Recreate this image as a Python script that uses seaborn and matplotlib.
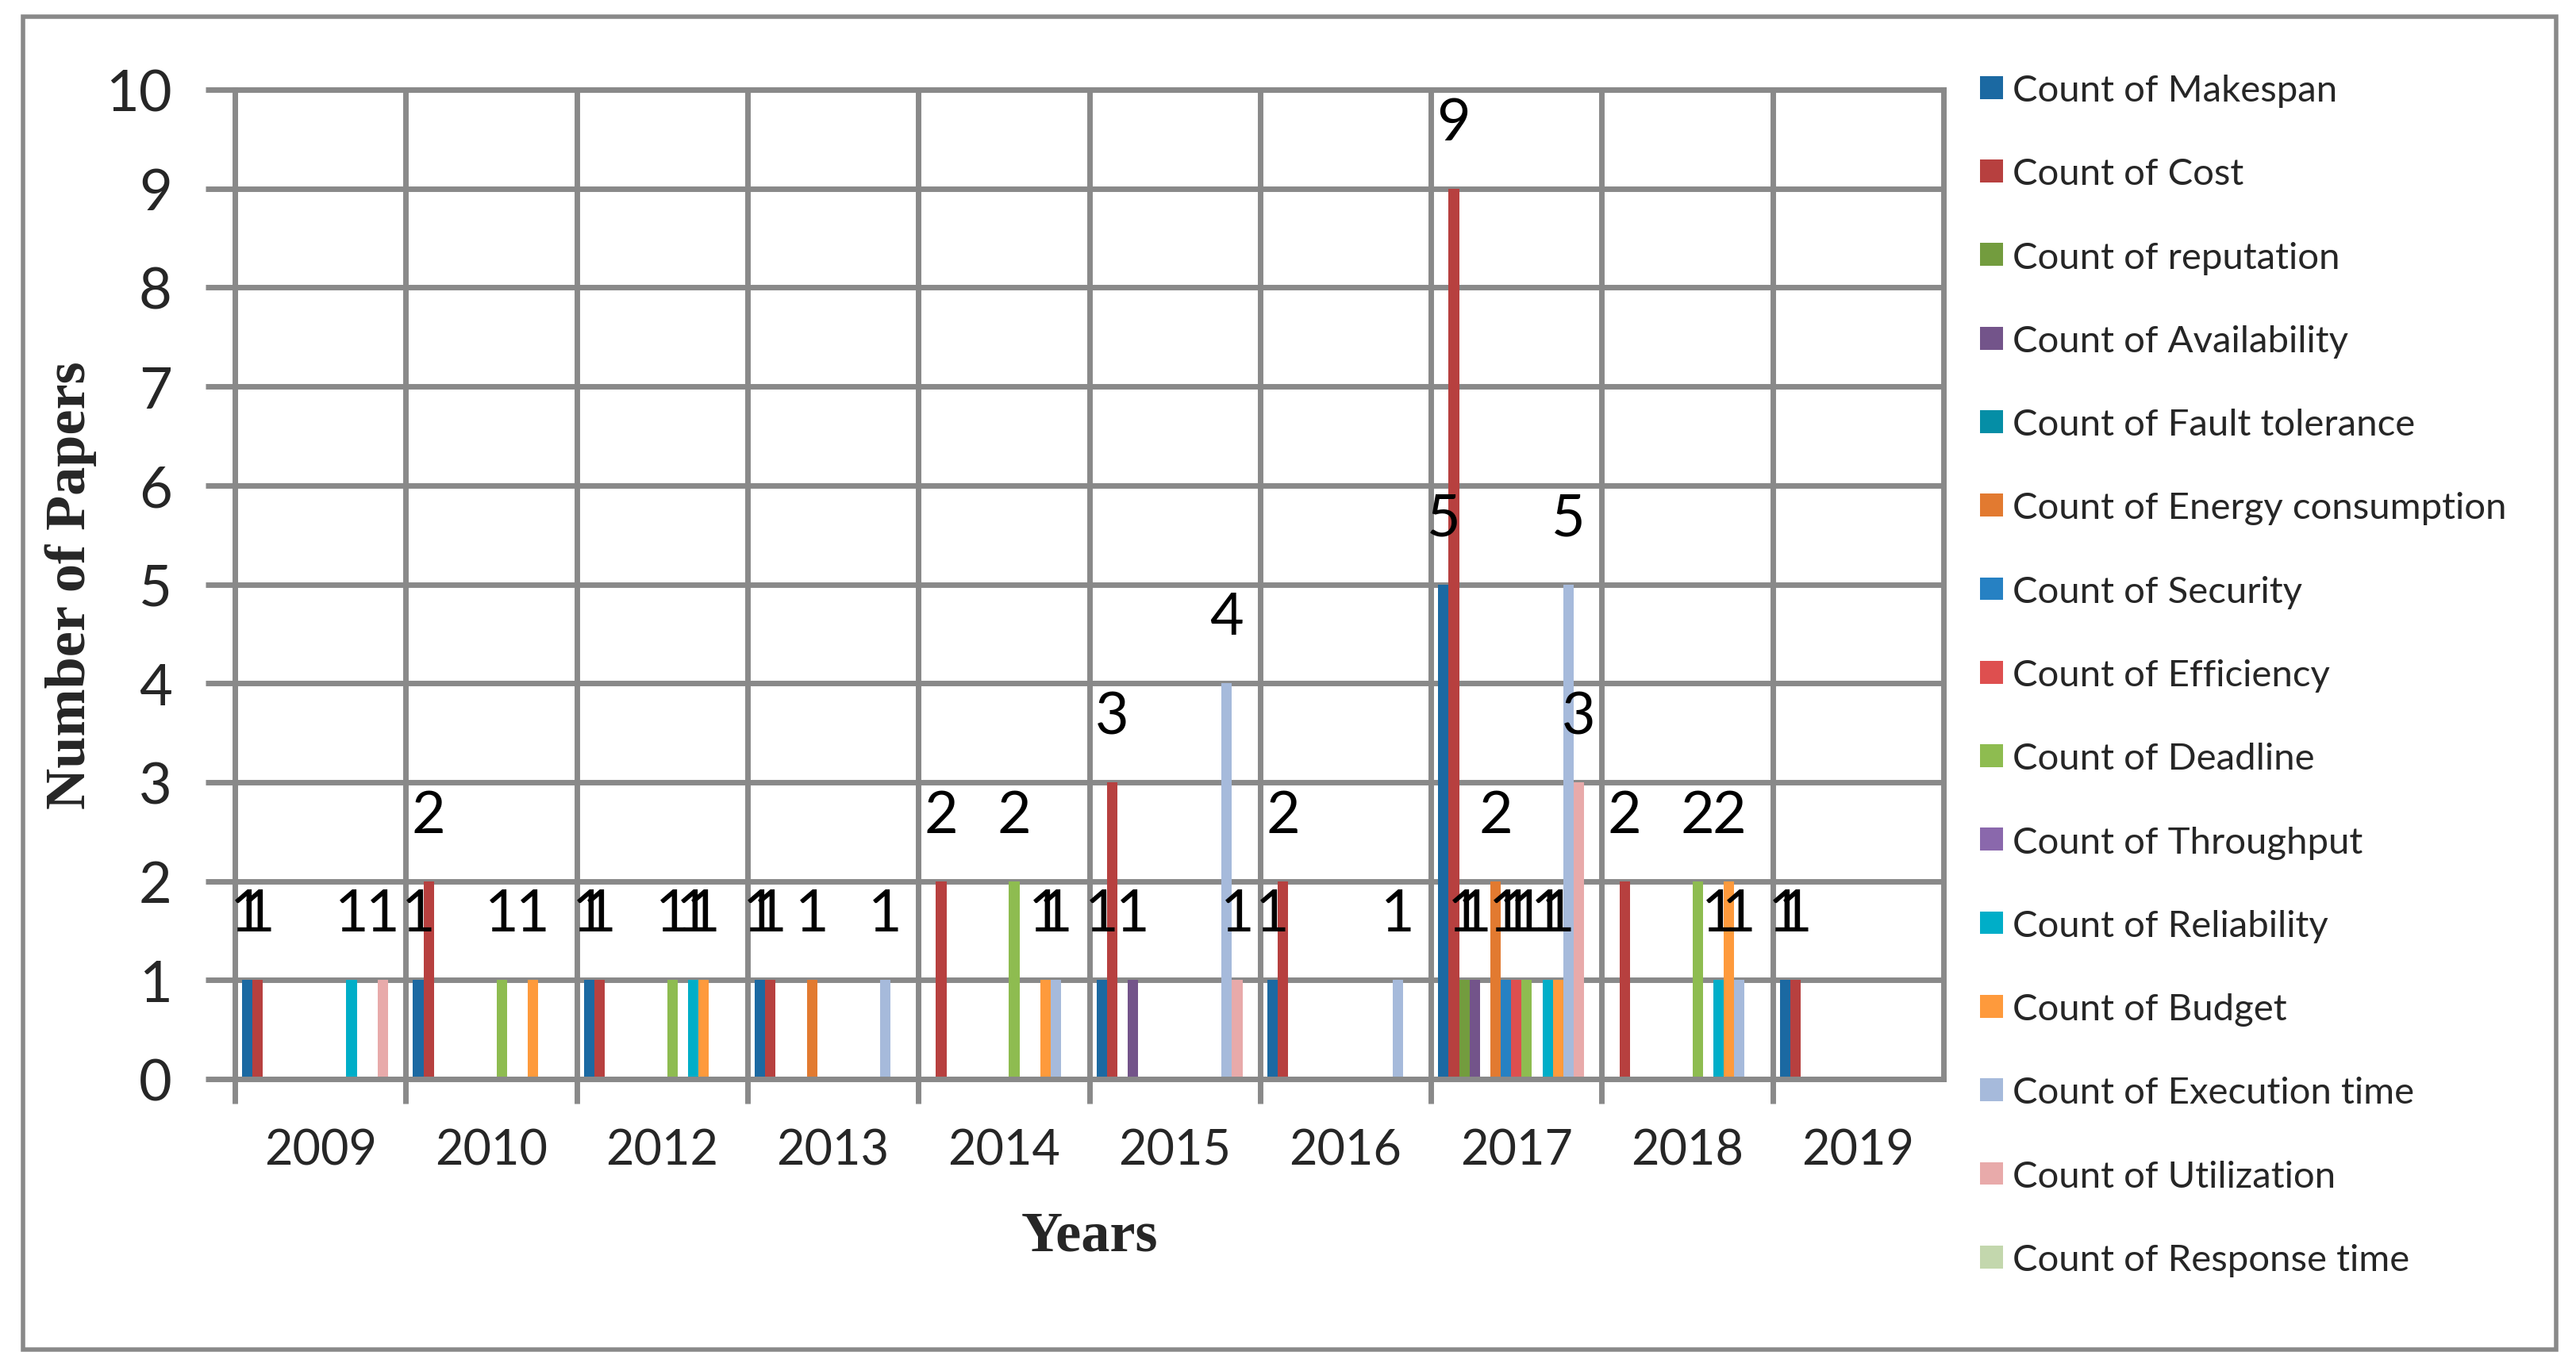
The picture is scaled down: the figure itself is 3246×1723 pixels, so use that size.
import pandas as pd
import seaborn as sns
import numpy as np
import matplotlib.pyplot as plt
from matplotlib.patches import Rectangle

years = ["2009", "2010", "2012", "2013", "2014", "2015", "2016", "2017", "2018", "2019"]
metrics = ["Count of Makespan", "Count of Cost", "Count of reputation", "Count of Availability",
           "Count of Fault tolerance", "Count of Energy consumption", "Count of Security",
           "Count of Efficiency", "Count of Deadline", "Count of Throughput",
           "Count of Reliability", "Count of Budget", "Count of Execution time",
           "Count of Utilization", "Count of Response time"]

# one list per metric, values per year in the order above
makespan    = [1, 1, 1, 1, 0, 1, 1, 5, 0, 1]
cost        = [1, 2, 1, 1, 2, 3, 2, 9, 2, 1]
reputation  = [0, 0, 0, 0, 0, 0, 0, 1, 0, 0]
availabilty = [0, 0, 0, 0, 0, 1, 0, 1, 0, 0]
fault_tol   = [0, 0, 0, 0, 0, 0, 0, 0, 0, 0]
energy      = [0, 0, 0, 1, 0, 0, 0, 2, 0, 0]
security    = [0, 0, 0, 0, 0, 0, 0, 1, 0, 0]
efficiency  = [0, 0, 0, 0, 0, 0, 0, 1, 0, 0]
deadline    = [0, 1, 1, 0, 2, 0, 0, 1, 2, 0]
throughput  = [0, 0, 0, 0, 0, 0, 0, 0, 0, 0]
reliability = [1, 0, 1, 0, 0, 0, 0, 1, 1, 0]
budget      = [0, 1, 1, 0, 1, 0, 0, 1, 2, 0]
exec_time   = [0, 0, 0, 1, 1, 4, 1, 5, 1, 0]
utilization = [1, 0, 0, 0, 0, 1, 0, 3, 0, 0]
response    = [0, 0, 0, 0, 0, 0, 0, 0, 0, 0]

colors = ["#1B69A2", "#B7403F", "#739C3E", "#73548A", "#058EA6", "#E27A30", "#2681C3",
          "#DE4F4F", "#8EBC50", "#8A68AC", "#00AEC8", "#FE9A3C", "#A6BADB", "#E8AAAA", "#C3D7AD"]

series = [makespan, cost, reputation, availabilty, fault_tol, energy, security, efficiency,
          deadline, throughput, reliability, budget, exec_time, utilization, response]

rows = []
for m, vals in zip(metrics, series):
    for y, v in zip(years, vals):
        rows.append({"Years": y, "Metric": m, "Count": v})
df = pd.DataFrame(rows)

sns.set_style("white")
plt.rcParams['font.family'] = ['Lato', 'DejaVu Sans']

fig = plt.figure(figsize=(32.46, 17.24), dpi=100)
ax = fig.add_axes([296/3246, 363/1724, 2153/3246, 1247/1724])

grid_c = "#898989"
sns.barplot(data=df, x="Years", y="Count", hue="Metric", hue_order=metrics, order=years,
            palette=colors, width=0.915, errorbar=None, linewidth=0, saturation=1, ax=ax)

# labels above nonzero bars
for cont in ax.containers:
    for bar in cont:
        h = bar.get_height()
        if h > 0:
            ax.text(bar.get_x() + bar.get_width()/2, h + 0.66, "%d" % h,
                    ha="center", va="center", fontsize=53, color="black", zorder=5)

ax.set_ylim(0, 10)
ax.set_xlim(-0.5, len(years) - 0.5)
ax.set_yticks(range(0, 11))
ax.set_xticks(np.arange(len(years)) - 0.5, minor=True)
ax.set_axisbelow(True)
ax.grid(True, axis="y", which="major", color=grid_c, linewidth=5)
ax.grid(True, axis="x", which="minor", color=grid_c, linewidth=5)
ax.grid(False, axis="x", which="major")
ax.tick_params(axis="y", which="major", length=27, width=5, color=grid_c, direction="out",
               pad=30, labelsize=52, left=True)
ax.tick_params(axis="x", which="major", length=0, pad=44, labelsize=44)
ax.tick_params(axis="x", which="minor", length=22, width=5, color=grid_c, direction="out", bottom=True)
for s in ax.spines.values():
    s.set_color(grid_c)
    s.set_linewidth(5)

ax.set_xlabel("Years", fontsize=52, fontweight="bold", family="Liberation Serif")
ax.set_ylabel("Number of Papers", fontsize=52, fontweight="bold", family="Liberation Serif")
ax.xaxis.set_label_coords(0.5, -(1527-1361)/1247)
ax.yaxis.set_label_coords(-(296-122)/2153, 0.5)

handles, labels = ax.get_legend_handles_labels()
ax.legend(handles, labels, loc="upper left", bbox_to_anchor=(2495/3246, (1724-94)/1724),
          bbox_transform=fig.transFigure, frameon=False, fontsize=34, handlelength=0.62,
          handleheight=0.56, handletextpad=0.25, labelspacing=1.34, borderpad=0, borderaxespad=0)

fig.patches.append(Rectangle((29/3246, 22/1724), (3221-29)/3246, (1702-22)/1724,
                             transform=fig.transFigure, fill=False, edgecolor=grid_c, linewidth=4))

fig.savefig("out.png", dpi=100)
